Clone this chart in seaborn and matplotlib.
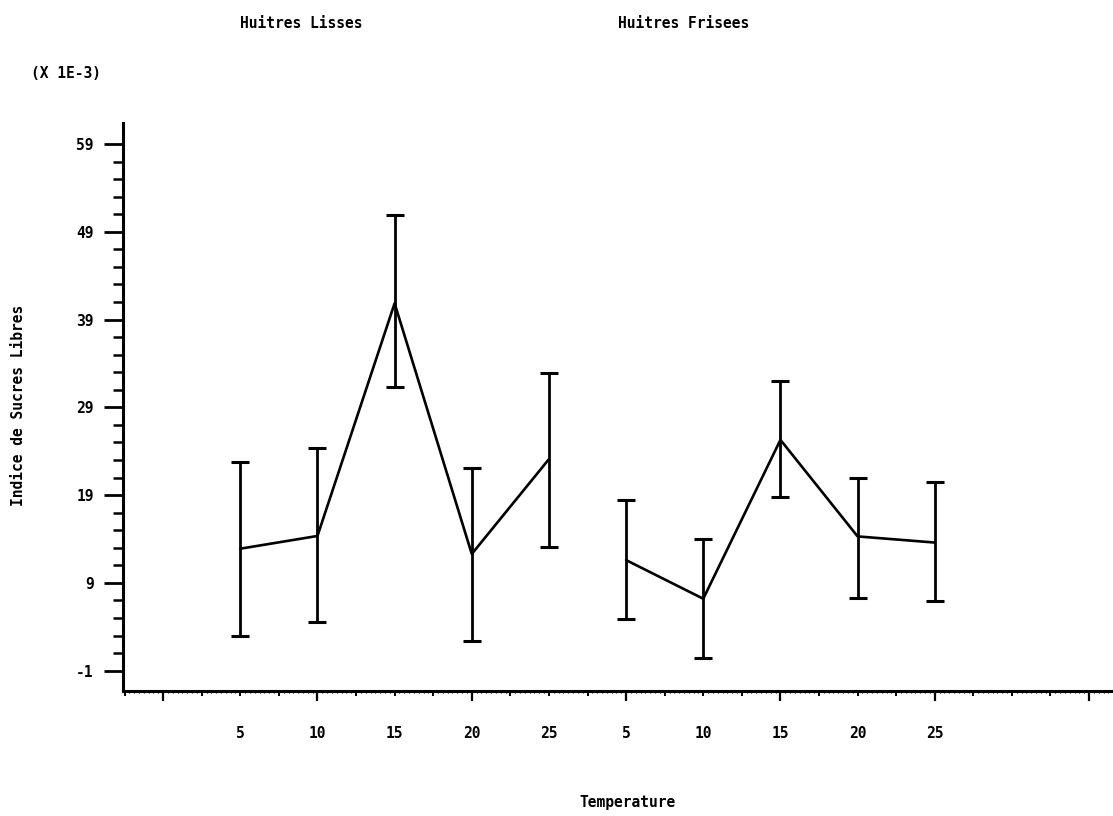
import numpy as np
import pandas as pd
import matplotlib
matplotlib.use("Agg")
import matplotlib.pyplot as plt
import seaborn as sns
from matplotlib.ticker import FixedLocator, NullFormatter

# Temperatures tested in each oyster group
temperatures = [5, 10, 15, 20, 25]
groups = ["Huitres Lisses", "Huitres Frisees"]

# Free-sugar index (x 1E-3): mean and error-bar limits
lisses_mean = [12.9, 14.35, 40.85, 12.3, 23.1]
lisses_low = [2.9, 4.5, 31.35, 2.4, 13.1]
lisses_high = [22.8, 24.4, 50.9, 22.1, 32.9]

frisees_mean = [11.6, 7.2, 25.3, 14.3, 13.6]
frisees_low = [4.9, 0.4, 18.8, 7.25, 6.95]
frisees_high = [18.45, 14.0, 32.0, 20.9, 20.5]

y_ticks = [-1, 9, 19, 29, 39, 49, 59]

series = [
    (groups[0], lisses_mean, lisses_low, lisses_high),
    (groups[1], frisees_mean, frisees_low, frisees_high),
]
rows = []
for g, (name, m, lo, hi) in enumerate(series):
    for k, t in enumerate(temperatures):
        rows.append(dict(group=name, temperature=t, pos=1 + 5 * g + k,
                         mean=m[k], low=lo[k], high=hi[k]))
df = pd.DataFrame(rows)

sns.set_theme(style="white")
plt.rcParams["font.family"] = ["DejaVu Sans Mono"]
plt.rcParams["font.weight"] = "bold"
plt.rcParams["axes.unicode_minus"] = False
plt.rcParams["text.color"] = "black"
plt.rcParams["xtick.color"] = "black"
plt.rcParams["ytick.color"] = "black"
plt.rcParams["xtick.labelcolor"] = "black"
plt.rcParams["ytick.labelcolor"] = "black"

W, H = 1113, 816
fig = plt.figure(figsize=(W / 100, H / 100), dpi=100)
ax = fig.add_axes([123 / W, 1 - 691 / H, 1 - 123 / W, (691 - 123) / H])

sns.lineplot(data=df, x="pos", y="mean", units="group", estimator=None,
             color="black", lw=1.9, ax=ax, legend=False)
ax.errorbar(df["pos"], df["mean"],
            yerr=[df["mean"] - df["low"], df["high"] - df["mean"]],
            fmt="none", ecolor="black", elinewidth=2.0,
            capsize=6.5, capthick=2.2)

ax.set_xlim(-0.52, 12.31)
ax.set_ylim(-3.31, 61.39)

for side in ("top", "right"):
    ax.spines[side].set_visible(False)
for side in ("left", "bottom"):
    ax.spines[side].set_linewidth(2.2)
    ax.spines[side].set_color("black")

# y axis: labelled ticks every 10, small ticks every 2
ax.yaxis.set_major_locator(FixedLocator(y_ticks))
ax.yaxis.set_minor_locator(FixedLocator(np.arange(-1, 61, 2)))
ax.tick_params(axis="y", which="major", direction="out", length=14, width=2.0,
               pad=7, labelsize=10.5, left=True, color="black",
               labelcolor="black")
ax.tick_params(axis="y", which="minor", direction="out", length=7, width=1.8,
               left=True, color="black")

# x axis tick marks (unlabelled)
ax.xaxis.set_major_locator(FixedLocator(np.arange(0, 13, 2)))
ax.xaxis.set_minor_locator(FixedLocator(np.arange(-0.5, 12.31, 0.5)))
ax.xaxis.set_major_formatter(NullFormatter())
ax.tick_params(axis="x", which="major", direction="out", length=7.5, width=1.6,
               bottom=True, color="black")
ax.tick_params(axis="x", which="minor", direction="out", length=3.8, width=1.4,
               bottom=True, color="black")

fine = ax.secondary_xaxis("bottom")
fine.spines["bottom"].set_visible(False)
fine.set_xticks(np.arange(-0.5, 12.31, 1 / 16))
fine.xaxis.set_major_formatter(NullFormatter())
fine.tick_params(axis="x", direction="out", length=1.6, width=0.8, color="black")

# temperature labels under each data column
lab = ax.secondary_xaxis("bottom")
lab.spines["bottom"].set_visible(False)
lab.set_xticks(df["pos"].tolist(), labels=[str(t) for t in df["temperature"]])
lab.tick_params(axis="x", length=0, pad=25, labelsize=10.5, labelcolor="black")
for t in lab.get_xticklabels():
    t.set_fontweight("bold")
    t.set_color("black")
for t in ax.get_yticklabels():
    t.set_fontweight("bold")
    t.set_color("black")

ax.set_xlabel("")
ax.set_ylabel("")

txt = dict(fontsize=10.5, fontweight="bold", color="black")
fig.text(301 / W, 1 - 24 / H, groups[0], ha="center", va="center", **txt)
fig.text(684 / W, 1 - 24 / H, groups[1], ha="center", va="center", **txt)
fig.text(66 / W, 1 - 73 / H, "(X 1E-3)", ha="center", va="center", **txt)
fig.text(627 / W, 1 - 803 / H, "Temperature", ha="center", va="center", **txt)
fig.text(19 / W, 1 - 405 / H, "Indice de Sucres Libres", ha="center",
         va="center", rotation=90, **txt)

fig.savefig("out.png", dpi=100, facecolor="white")
